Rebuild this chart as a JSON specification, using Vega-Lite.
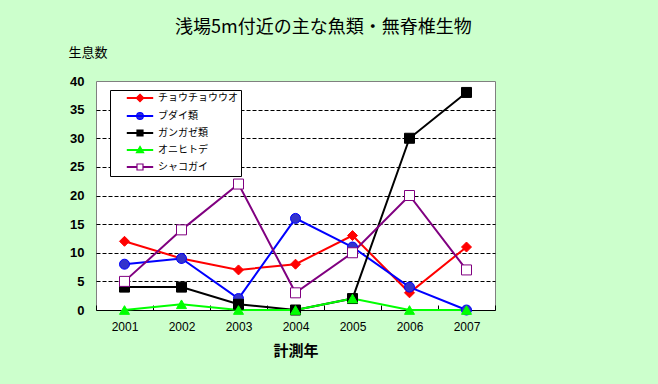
{
  "$schema": "https://vega.github.io/schema/vega-lite/v6.json",
  "width": 399,
  "height": 229,
  "autosize": {"type": "none"},
  "padding": {"left": 96, "top": 81, "right": 163, "bottom": 74},
  "background": "#CCFFCC",
  "title": {
    "text": "浅場5m付近の主な魚類・無脊椎生物",
    "anchor": "start",
    "frame": "group",
    "dx": 79,
    "offset": 9,
    "fontSize": 18,
    "font": "Noto Sans CJK JP",
    "fontWeight": "normal",
    "color": "#000000"
  },
  "data": {
    "values": [
      {"year": "2001", "species": "チョウチョウウオ", "count": 12},
      {"year": "2002", "species": "チョウチョウウオ", "count": 9},
      {"year": "2003", "species": "チョウチョウウオ", "count": 7},
      {"year": "2004", "species": "チョウチョウウオ", "count": 8},
      {"year": "2005", "species": "チョウチョウウオ", "count": 13},
      {"year": "2006", "species": "チョウチョウウオ", "count": 3},
      {"year": "2007", "species": "チョウチョウウオ", "count": 11},
      {"year": "2001", "species": "ブダイ類", "count": 8},
      {"year": "2002", "species": "ブダイ類", "count": 9},
      {"year": "2003", "species": "ブダイ類", "count": 2},
      {"year": "2004", "species": "ブダイ類", "count": 16},
      {"year": "2005", "species": "ブダイ類", "count": 11},
      {"year": "2006", "species": "ブダイ類", "count": 4},
      {"year": "2007", "species": "ブダイ類", "count": 0},
      {"year": "2001", "species": "ガンガゼ類", "count": 4},
      {"year": "2002", "species": "ガンガゼ類", "count": 4},
      {"year": "2003", "species": "ガンガゼ類", "count": 1},
      {"year": "2004", "species": "ガンガゼ類", "count": 0},
      {"year": "2005", "species": "ガンガゼ類", "count": 2},
      {"year": "2006", "species": "ガンガゼ類", "count": 30},
      {"year": "2007", "species": "ガンガゼ類", "count": 38},
      {"year": "2001", "species": "オニヒトデ", "count": 0},
      {"year": "2002", "species": "オニヒトデ", "count": 1},
      {"year": "2003", "species": "オニヒトデ", "count": 0},
      {"year": "2004", "species": "オニヒトデ", "count": 0},
      {"year": "2005", "species": "オニヒトデ", "count": 2},
      {"year": "2006", "species": "オニヒトデ", "count": 0},
      {"year": "2007", "species": "オニヒトデ", "count": 0},
      {"year": "2001", "species": "シャコガイ", "count": 5},
      {"year": "2002", "species": "シャコガイ", "count": 14},
      {"year": "2003", "species": "シャコガイ", "count": 22},
      {"year": "2004", "species": "シャコガイ", "count": 3},
      {"year": "2005", "species": "シャコガイ", "count": 10},
      {"year": "2006", "species": "シャコガイ", "count": 20},
      {"year": "2007", "species": "シャコガイ", "count": 7}
    ]
  },
  "encoding": {
    "x": {
      "field": "year",
      "type": "ordinal",
      "scale": {"type": "band", "paddingInner": 0, "paddingOuter": 0},
      "axis": {
        "title": "計測年",
        "titleFont": "Noto Sans CJK JP",
        "titleFontSize": 15,
        "titleFontWeight": "bold",
        "titleColor": "#000000",
        "titleBaseline": "middle",
        "titleY": 40,
        "labelAngle": 0,
        "labelFont": "Liberation Sans",
        "labelFontSize": 12,
        "labelColor": "#000000",
        "labelPadding": 16,
        "tickBand": "extent",
        "tickSize": -5,
        "tickColor": "#000000",
        "domainColor": "#000000",
        "grid": false
      }
    },
    "y": {
      "field": "count",
      "type": "quantitative",
      "scale": {"domain": [0, 40], "nice": false},
      "axis": {
        "title": "生息数",
        "titleAngle": 0,
        "titleAlign": "left",
        "titleBaseline": "middle",
        "titleX": -28,
        "titleY": -29,
        "titleFont": "Noto Sans CJK JP",
        "titleFontSize": 13,
        "titleFontWeight": "normal",
        "titleColor": "#000000",
        "values": [0, 5, 10, 15, 20, 25, 30, 35, 40],
        "labelFont": "Liberation Sans",
        "labelFontSize": 13,
        "labelFontWeight": "bold",
        "labelColor": "#000000",
        "labelPadding": 12,
        "ticks": false,
        "domain": false,
        "grid": true,
        "gridColor": {"condition": {"test": "datum.value === 0 || datum.value === 40", "value": "transparent"}, "value": "#000000"},
        "gridDash": [4, 2],
        "gridWidth": 1
      }
    }
  },
  "layer": [
    {
      "mark": {"type": "line", "strokeWidth": 2},
      "encoding": {
        "stroke": {
          "field": "species",
          "type": "nominal",
          "scale": {
            "domain": ["チョウチョウウオ", "ブダイ類", "ガンガゼ類", "オニヒトデ", "シャコガイ"],
            "range": ["#FF0000", "#0000FF", "#000000", "#00FF00", "#800080"]
          },
          "legend": null
        }
      }
    },
    {
      "mark": {"type": "point", "filled": true, "size": 100, "strokeWidth": 1, "opacity": 1},
      "encoding": {
        "stroke": {"field": "species", "type": "nominal", "legend": null},
        "fill": {
          "field": "species",
          "type": "nominal",
          "scale": {
            "domain": ["チョウチョウウオ", "ブダイ類", "ガンガゼ類", "オニヒトデ", "シャコガイ"],
            "range": ["#FF0000", "#3333CC", "#000000", "#00FF00", "#FFFFFF"]
          },
          "legend": null
        },
        "shape": {
          "field": "species",
          "type": "nominal",
          "scale": {
            "domain": ["チョウチョウウオ", "ブダイ類", "ガンガゼ類", "オニヒトデ", "シャコガイ"],
            "range": ["diamond", "circle", "square", "triangle-up", "square"]
          },
          "legend": null
        }
      }
    },
    {
      "transform": [{"filter": "false"}],
      "mark": {"type": "point", "filled": true, "strokeWidth": 1.2, "opacity": 1},
      "encoding": {
        "stroke": {"field": "species", "type": "nominal", "legend": {"title": null}},
        "fill": {"field": "species", "type": "nominal", "legend": {"title": null}},
        "shape": {
          "field": "species",
          "type": "nominal",
          "scale": {
            "domain": ["チョウチョウウオ", "ブダイ類", "ガンガゼ類", "オニヒトデ", "シャコガイ"],
            "range": [
              "M-4.2,-0.1L4.2,-0.1L4.2,0.1L-4.2,0.1Z M0,-1.25L1.25,0L0,1.25L-1.25,0Z",
              "M-4.2,-0.1L4.2,-0.1L4.2,0.1L-4.2,0.1Z M-1.1,0A1.1,1.1,0,1,1,1.1,0A1.1,1.1,0,1,1,-1.1,0Z",
              "M-4.2,-0.1L4.2,-0.1L4.2,0.1L-4.2,0.1Z M-1,-1L1,-1L1,1L-1,1Z",
              "M-4.2,-0.1L4.2,-0.1L4.2,0.1L-4.2,0.1Z M0,-1.2L1.2,0.9L-1.2,0.9Z",
              "M-4.2,-0.1L-1,-0.1L-1,0.1L-4.2,0.1Z M1,-0.1L4.2,-0.1L4.2,0.1L1,0.1Z M-1,-1L1,-1L1,1L-1,1Z"
            ]
          },
          "legend": {"title": null}
        }
      }
    }
  ],
  "resolve": {
    "scale": {"shape": "independent"},
    "legend": {"shape": "independent", "fill": "independent", "stroke": "independent"}
  },
  "config": {
    "view": {"stroke": "#808080", "fill": "#FFFFFF"},
    "legend": {
      "orient": "none",
      "legendX": 14,
      "legendY": 9,
      "padding": 3,
      "rowPadding": 5.0,
      "labelFont": "Noto Sans CJK JP",
      "labelFontSize": 10,
      "labelColor": "#000000",
      "labelLimit": 200,
      "labelOffset": 13,
      "symbolSize": 36,
      "symbolStrokeWidth": 1.2,
      "symbolOpacity": 1,
      "symbolOffset": 22,
      "strokeColor": "#000000",
      "fillColor": "#FFFFFF"
    }
  }
}
